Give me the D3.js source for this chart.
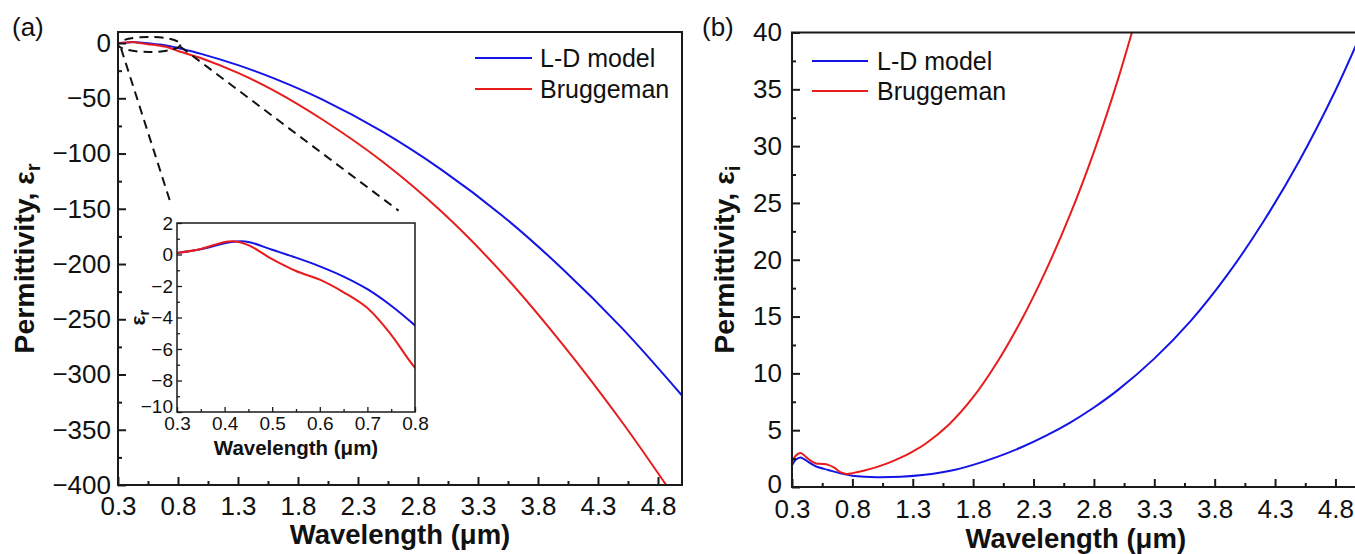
<!DOCTYPE html>
<html><head><meta charset="utf-8">
<script src="https://cdn.jsdelivr.net/npm/d3@7"></script>
<style>
body{margin:0;background:#fff}
svg{display:block}
text{font-family:"Liberation Sans",Arial,Helvetica,sans-serif;fill:#111}
</style>
</head><body>
<svg id="c" width="1355" height="554"></svg>
<script>
// ---------------- DATA ----------------
const seriesNames = ["L-D model", "Bruggeman"];

// Panel (a): real permittivity
const lamA_LD = [0.3,0.35,0.4,0.425,0.45,0.5,0.55,0.6,0.65,0.7,0.75,0.8,1.0,1.3,1.6,2.0,2.5,3.0,3.5,4.0,4.5,5.0];
const epsR_LD = [0.1,0.33,0.72,0.83,0.8,0.3,-0.2,-0.75,-1.4,-2.2,-3.25,-4.5,-10,-20,-32,-51,-80,-115,-156,-204,-258,-319];
const lamA_BR = [0.3,0.35,0.4,0.42,0.45,0.5,0.55,0.6,0.65,0.7,0.75,0.8,1.0,1.3,1.6,2.0,2.5,3.0,3.5,4.0,4.5,5.0];
const epsR_BR = [0.1,0.35,0.8,0.84,0.6,-0.3,-1.05,-1.6,-2.4,-3.4,-5.1,-7.2,-14,-27,-43,-69,-107,-153,-208,-272,-343,-421];

// Panel (b): imaginary permittivity
const lamB_LD = [0.3,0.33,0.37,0.4,0.45,0.5,0.6,0.7,0.8,0.9,1.0,1.2,1.4,1.6,1.8,2.0,2.2,2.4,2.6,2.8,3.0,3.3,3.6,3.9,4.2,4.5,4.8,5.0];
const epsI_LD = [1.9,2.4,2.6,2.45,2.1,1.8,1.5,1.2,1.0,0.9,0.86,0.9,1.07,1.4,1.95,2.65,3.5,4.5,5.65,7.0,8.55,11.3,14.6,18.6,23.3,28.7,34.9,39.6];
const lamB_BR = [0.3,0.33,0.37,0.4,0.45,0.5,0.55,0.6,0.65,0.7,0.75,0.8,0.9,1.0,1.1,1.2,1.3,1.4,1.6,1.8,2.0,2.2,2.4,2.6,2.8,3.0,3.2];
const epsI_BR = [2.1,2.75,3.0,2.8,2.35,2.07,2.03,1.95,1.7,1.3,1.15,1.22,1.45,1.75,2.12,2.58,3.12,3.76,5.5,7.9,11.0,14.7,19.0,23.9,29.5,35.9,43.2];

// Tick labels
const xTicksMain = [0.3,0.8,1.3,1.8,2.3,2.8,3.3,3.8,4.3,4.8];
const xTicksMainMinor = [0.55,1.05,1.55,2.05,2.55,3.05,3.55,4.05,4.55];
const yTicksA = [-400,-350,-300,-250,-200,-150,-100,-50,0];
const yTicksAMinor = [-375,-325,-275,-225,-175,-125,-75,-25];
const yTicksB = [0,5,10,15,20,25,30,35,40];
const yTicksBMinor = [2.5,7.5,12.5,17.5,22.5,27.5,32.5,37.5];
const xTicksInset = [0.3,0.4,0.5,0.6,0.7,0.8];
const xTicksInsetMinor = [0.35,0.45,0.55,0.65,0.75];
const yTicksInset = [-10,-8,-6,-4,-2,0,2];
const yTicksInsetMinor = [-9,-7,-5,-3,-1,1];

// Zoomed region shown in inset (data coords of panel a)
const zoomCenter = [0.56, -1.3];
const zoomRadius = [0.26, 6.8];

// ---------------- DRAW ----------------
const BLUE = "#1414e6", RED = "#e81c1c", AX = "#1a1a1a";
const svg = d3.select("#c");
const fmt1 = d3.format(".1f");

function styleAxis(g, size, sw){
  g.select(".domain").remove();
  g.selectAll(".tick line").attr("stroke", AX).attr("stroke-width", sw);
  g.selectAll(".tick text").attr("font-size", size).attr("fill", "#111");
}

function lineGen(x, y){
  return d3.line().x(d=>x(d[0])).y(d=>y(d[1])).curve(d3.curveCatmullRom.alpha(0.5));
}
const zip = (a,b)=>a.map((v,i)=>[v,b[i]]);

// ===== Panel (a) =====
const xA = d3.scaleLinear([0.3,5.0],[118,682]);
const yA = d3.scaleLinear([-400,10],[485,32]);
const gA = svg.append("g");
gA.append("clipPath").attr("id","clipA").append("rect")
  .attr("x",xA.range()[0]).attr("y",yA.range()[1])
  .attr("width",xA.range()[1]-xA.range()[0]).attr("height",yA.range()[0]-yA.range()[1]);

const lA = lineGen(xA,yA);
const curvesA = gA.append("g").attr("clip-path","url(#clipA)");
curvesA.append("path").datum(zip(lamA_LD,epsR_LD)).attr("d",lA).attr("fill","none").attr("stroke",BLUE).attr("stroke-width",2);
curvesA.append("path").datum(zip(lamA_BR,epsR_BR)).attr("d",lA).attr("fill","none").attr("stroke",RED).attr("stroke-width",2);

gA.append("g").attr("transform",`translate(0,${yA.range()[0]})`)
  .call(d3.axisBottom(xA).tickValues(xTicksMain).tickSize(-8).tickSizeOuter(0).tickPadding(12).tickFormat(fmt1))
  .call(g=>styleAxis(g,26,2));
gA.append("g").attr("transform",`translate(0,${yA.range()[0]})`)
  .call(d3.axisBottom(xA).tickValues(xTicksMainMinor).tickSize(-4).tickSizeOuter(0).tickFormat(""))
  .call(g=>styleAxis(g,26,2));
gA.append("g").attr("transform",`translate(${xA.range()[0]},0)`)
  .call(d3.axisLeft(yA).tickValues(yTicksA).tickSize(-8).tickSizeOuter(0).tickPadding(7))
  .call(g=>styleAxis(g,26,2));
gA.append("g").attr("transform",`translate(${xA.range()[0]},0)`)
  .call(d3.axisLeft(yA).tickValues(yTicksAMinor).tickSize(-4).tickSizeOuter(0).tickFormat(""))
  .call(g=>styleAxis(g,26,2));
gA.append("rect").attr("x",xA.range()[0]).attr("y",yA.range()[1])
  .attr("width",xA.range()[1]-xA.range()[0]).attr("height",yA.range()[0]-yA.range()[1])
  .attr("fill","none").attr("stroke",AX).attr("stroke-width",2);

gA.append("text").attr("x",(xA.range()[0]+xA.range()[1])/2).attr("y",544)
  .attr("text-anchor","middle").attr("font-size",27.5).attr("font-weight","bold").text("Wavelength (μm)");
const ytA = gA.append("text").attr("transform",`translate(34,${(yA.range()[0]+yA.range()[1])/2}) rotate(-90)`)
  .attr("text-anchor","middle").attr("font-size",28.5).attr("font-weight","bold");
ytA.append("tspan").text("Permittivity, ε");
ytA.append("tspan").attr("font-size",20).attr("dy",6).text("r");
gA.append("text").attr("x",12).attr("y",36).attr("font-size",26).text("(a)");

const legA = gA.append("g");
[[BLUE,58],[RED,89]].forEach(([c,yy],i)=>{
  legA.append("line").attr("x1",475).attr("x2",532).attr("y1",yy).attr("y2",yy).attr("stroke",c).attr("stroke-width",2);
  legA.append("text").attr("x",540).attr("y",yy).attr("dy","0.35em").attr("font-size",25).text(seriesNames[i]);
});

// ===== Inset =====
const xI = d3.scaleLinear([0.3,0.8],[177,415]);
const yI = d3.scaleLinear([-10,2],[412,223]);

const ex = xA(zoomCenter[0]), ey = yA(zoomCenter[1]);
const erx = xA(zoomCenter[0]+zoomRadius[0]) - ex, ery = yA(zoomCenter[1]-zoomRadius[1]) - ey;
gA.append("ellipse").attr("cx",ex).attr("cy",ey).attr("rx",erx).attr("ry",ery)
  .attr("fill","none").attr("stroke","#111").attr("stroke-width",2).attr("stroke-dasharray","9,6");
const c1s=[ex-erx*0.9, ey+ery*0.55], c1e=[xI.range()[0], yI.range()[1]];
const c2s=[ex+erx, ey+ery*0.3], c2e=[xI.range()[1], yI.range()[1]];
[[c1s,c1e,0.88],[c2s,c2e,0.93]].forEach(([s,e,f])=>{
  gA.append("line").attr("x1",s[0]).attr("y1",s[1])
    .attr("x2",s[0]+(e[0]-s[0])*f).attr("y2",s[1]+(e[1]-s[1])*f)
    .attr("stroke","#111").attr("stroke-width",2).attr("stroke-dasharray","9,6");
});

const gI = svg.append("g");
gI.append("rect").attr("x",xI.range()[0]).attr("y",yI.range()[1])
  .attr("width",xI.range()[1]-xI.range()[0]).attr("height",yI.range()[0]-yI.range()[1]).attr("fill","#fff");
gI.append("clipPath").attr("id","clipI").append("rect")
  .attr("x",xI.range()[0]).attr("y",yI.range()[1])
  .attr("width",xI.range()[1]-xI.range()[0]).attr("height",yI.range()[0]-yI.range()[1]);
const lI = lineGen(xI,yI);
const curvesI = gI.append("g").attr("clip-path","url(#clipI)");
curvesI.append("path").datum(zip(lamA_LD,epsR_LD)).attr("d",lI).attr("fill","none").attr("stroke",BLUE).attr("stroke-width",2);
curvesI.append("path").datum(zip(lamA_BR,epsR_BR)).attr("d",lI).attr("fill","none").attr("stroke",RED).attr("stroke-width",2);

gI.append("g").attr("transform",`translate(0,${yI.range()[0]})`)
  .call(d3.axisBottom(xI).tickValues(xTicksInset).tickSize(-5).tickSizeOuter(0).tickPadding(5).tickFormat(fmt1))
  .call(g=>styleAxis(g,19,1.3));
gI.append("g").attr("transform",`translate(0,${yI.range()[0]})`)
  .call(d3.axisBottom(xI).tickValues(xTicksInsetMinor).tickSize(-3).tickSizeOuter(0).tickFormat(""))
  .call(g=>styleAxis(g,19,1.3));
gI.append("g").attr("transform",`translate(${xI.range()[0]},0)`)
  .call(d3.axisLeft(yI).tickValues(yTicksInset).tickSize(-5).tickSizeOuter(0).tickPadding(4))
  .call(g=>styleAxis(g,19,1.3))
  .call(g=>g.selectAll(".tick text").filter(d=>d===yTicksInset[0]).attr("dy","0.05em"));
gI.append("g").attr("transform",`translate(${xI.range()[0]},0)`)
  .call(d3.axisLeft(yI).tickValues(yTicksInsetMinor).tickSize(-3).tickSizeOuter(0).tickFormat(""))
  .call(g=>styleAxis(g,19,1.3));
gI.append("rect").attr("x",xI.range()[0]).attr("y",yI.range()[1])
  .attr("width",xI.range()[1]-xI.range()[0]).attr("height",yI.range()[0]-yI.range()[1])
  .attr("fill","none").attr("stroke",AX).attr("stroke-width",1.5);
gI.append("text").attr("x",(xI.range()[0]+xI.range()[1])/2).attr("y",455)
  .attr("text-anchor","middle").attr("font-size",20.5).attr("font-weight","bold").text("Wavelength (μm)");
const ytI = gI.append("text").attr("transform",`translate(145,${(yI.range()[0]+yI.range()[1])/2}) rotate(-90)`)
  .attr("text-anchor","middle").attr("font-size",21).attr("font-weight","bold");
ytI.append("tspan").text("ε");
ytI.append("tspan").attr("font-size",15).attr("dy",4).text("r");

// ===== Panel (b) =====
const xB = d3.scaleLinear([0.3,5.0],[792,1359.6]);
const yB = d3.scaleLinear([0,40],[487,32.5]);
const gB = svg.append("g");
gB.append("clipPath").attr("id","clipB").append("rect")
  .attr("x",xB.range()[0]).attr("y",yB.range()[1])
  .attr("width",xB.range()[1]-xB.range()[0]).attr("height",yB.range()[0]-yB.range()[1]);
const lB = lineGen(xB,yB);
const curvesB = gB.append("g").attr("clip-path","url(#clipB)");
curvesB.append("path").datum(zip(lamB_LD,epsI_LD)).attr("d",lB).attr("fill","none").attr("stroke",BLUE).attr("stroke-width",2);
curvesB.append("path").datum(zip(lamB_BR,epsI_BR)).attr("d",lB).attr("fill","none").attr("stroke",RED).attr("stroke-width",2);

gB.append("g").attr("transform",`translate(0,${yB.range()[0]})`)
  .call(d3.axisBottom(xB).tickValues(xTicksMain).tickSize(-8).tickSizeOuter(0).tickPadding(13).tickFormat(fmt1))
  .call(g=>styleAxis(g,26,2));
gB.append("g").attr("transform",`translate(0,${yB.range()[0]})`)
  .call(d3.axisBottom(xB).tickValues(xTicksMainMinor).tickSize(-4).tickSizeOuter(0).tickFormat(""))
  .call(g=>styleAxis(g,26,2));
gB.append("g").attr("transform",`translate(${xB.range()[0]},0)`)
  .call(d3.axisLeft(yB).tickValues(yTicksB).tickSize(-8).tickSizeOuter(0).tickPadding(10))
  .call(g=>styleAxis(g,26,2))
  .call(g=>g.selectAll(".tick text").filter(d=>d===yTicksB[0]).attr("dy","0.2em"));
gB.append("g").attr("transform",`translate(${xB.range()[0]},0)`)
  .call(d3.axisLeft(yB).tickValues(yTicksBMinor).tickSize(-4).tickSizeOuter(0).tickFormat(""))
  .call(g=>styleAxis(g,26,2));
gB.append("rect").attr("x",xB.range()[0]).attr("y",yB.range()[1])
  .attr("width",xB.range()[1]-xB.range()[0]).attr("height",yB.range()[0]-yB.range()[1])
  .attr("fill","none").attr("stroke",AX).attr("stroke-width",2);

gB.append("text").attr("x",(xB.range()[0]+xB.range()[1])/2).attr("y",548)
  .attr("text-anchor","middle").attr("font-size",27.5).attr("font-weight","bold").text("Wavelength (μm)");
const ytB = gB.append("text").attr("transform",`translate(734,${(yB.range()[0]+yB.range()[1])/2}) rotate(-90)`)
  .attr("text-anchor","middle").attr("font-size",28.5).attr("font-weight","bold");
ytB.append("tspan").text("Permittivity, ε");
ytB.append("tspan").attr("font-size",20).attr("dy",6).text("i");
gB.append("text").attr("x",702).attr("y",36).attr("font-size",26).text("(b)");

const legB = gB.append("g");
[[BLUE,61],[RED,91]].forEach(([c,yy],i)=>{
  legB.append("line").attr("x1",812).attr("x2",868).attr("y1",yy).attr("y2",yy).attr("stroke",c).attr("stroke-width",2);
  legB.append("text").attr("x",877).attr("y",yy).attr("dy","0.35em").attr("font-size",25).text(seriesNames[i]);
});
</script>
</body></html>
